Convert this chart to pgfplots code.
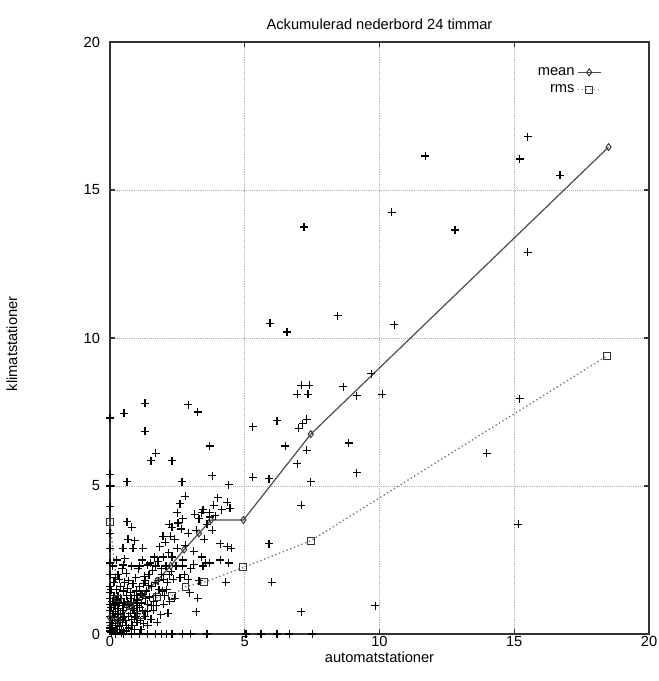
\documentclass[border=0pt]{standalone}
\usepackage{pgfplots}
\pgfplotsset{compat=1.18}
\usepackage{fontspec}
\setmainfont{Liberation Sans}

% station pairs: automatic station (x) vs climate station (y), 24 h accumulated precipitation
\pgfplotstableread{
x y
15.5 16.8
15.2 16.05
11.7 16.15
16.7 15.5
10.45 14.25
12.8 13.65
15.5 12.9
10.55 10.45
7.2 13.75
13.98 6.1
15.2 7.95
15.15 3.7
9.85 0.95
7.1 0.75
8.45 10.75
8.65 8.35
9.15 8.05
10.1 8.1
9.7 8.8
8.85 6.45
9.15 5.45
7.45 5.15
7.1 4.35
7.1 8.4
7.4 8.4
6.95 8.1
7.35 8.1
7.3 7.25
7.15 7.1
7.0 6.95
6.2 7.2
5.3 7.0
6.5 6.35
7.3 6.2
6.95 5.75
5.94 10.5
6.57 10.2
1.3 7.8
0.52 7.45
1.3 6.85
1.7 6.1
1.52 5.85
2.3 5.85
2.9 7.75
3.25 7.5
3.7 6.35
0.63 5.15
2.67 5.15
2.8 4.65
3.8 5.35
4.4 5.05
5.3 5.3
5.9 5.25
5.9 3.05
6.0 1.75
3.2 0.75
4.3 1.75
3.7 2.4
2.6 4.4
2.5 4.1
2.7 3.9
2.3 3.6
2.52 3.75
2.0 3.3
2.4 3.2
4.0 4.6
4.35 4.45
4.45 4.25
4.15 4.2
4.1 3.05
4.35 2.95
4.5 2.9
4.1 2.5
4.4 2.4
3.4 4.1
3.7 3.95
0.63 3.8
0.8 3.6
0.67 3.2
0.92 3.15
0.48 2.9
0.85 2.9
1.22 2.9
1.96 3.3
2.2 3.7
0 7.3
0 5.4
0 5.0
0 4.3
0 3.4
0 2.9
0 2.4
0 2.0
0 1.6
0 1.4
0 1.2
0 1.0
0 0.8
0 0.6
0 0.4
0 0.2
0 0.1
0.2 0
0.5 0
0.8 0
1.1 0
1.4 0
1.7 0
1.9 0
2.1 0
2.3 0
2.7 0
3.0 0
3.6 0
5.05 0
5.6 0
6.2 0
6.65 0
7.5 0
0.05 0.05
0.1 0.2
0.15 0.1
0.2 0.35
0.25 0.15
0.3 0.5
0.1 0.6
0.35 0.25
0.4 0.7
0.05 0.9
0.2 1.0
0.45 0.4
0.5 0.1
0.3 0.85
0.55 0.6
0.15 1.3
0.4 1.2
0.6 0.9
0.25 1.5
0.5 1.45
0.6 0.3
0.1 0.45
0.35 1.05
0.2 0.7
0.45 0.95
0.7 0.2
0.8 0.5
0.9 0.8
0.65 1.1
0.75 1.4
0.85 1.7
1.0 0.4
1.1 0.9
1.2 1.3
0.95 1.9
1.05 2.2
1.3 0.6
1.4 1.0
1.25 1.7
1.45 2.0
0.7 1.8
0.8 2.3
1.0 1.15
1.15 0.15
1.35 1.45
0.6 2.05
1.5 2.4
0.9 1.3
1.2 2.5
1.4 0.3
0.55 1.75
0.75 0.7
1.6 0.8
1.7 1.3
1.8 1.8
1.9 2.2
2.0 1.0
2.1 1.5
2.2 2.0
2.3 2.6
2.4 1.2
1.65 2.6
1.75 0.4
1.85 2.95
2.05 3.1
2.15 0.7
2.35 1.85
2.45 2.3
1.55 1.6
2.25 3.3
1.95 1.45
2.5 2.9
2.6 1.9
2.7 2.5
2.8 3.0
2.9 3.4
3.0 2.2
3.1 2.8
3.2 3.5
3.3 3.9
3.4 2.6
3.5 3.2
3.6 3.7
3.7 4.1
2.65 3.55
2.95 1.4
3.15 4.05
3.45 4.2
3.8 3.5
3.9 4.0
2.75 2.0
3.25 1.2
3.55 2.4
3.85 4.35
0.5 2.33
1.1 2.3
1.4 2.33
1.7 2.3
1.3 1.8
2.0 1.85
2.9 1.85
3.3 1.8
2.7 2.3
3.1 2.35
3.45 2.3
0.05 0.3
0.12 0.75
0.18 0.55
0.22 1.15
0.28 0.3
0.33 0.65
0.38 0.45
0.42 0.15
0.48 0.8
0.52 1.05
0.58 0.45
0.62 1.3
0.68 0.6
0.72 0.95
0.78 1.2
0.82 0.3
0.88 1.05
0.92 0.55
0.98 1.45
1.02 0.7
1.08 1.6
1.12 0.45
1.18 1.05
1.22 0.8
1.28 1.95
1.32 1.2
1.38 0.75
1.42 1.65
1.48 1.25
1.52 0.5
1.58 2.15
1.62 1.1
1.68 1.75
1.72 0.95
1.78 2.45
1.82 1.5
1.88 0.65
1.92 2.0
1.98 2.6
2.02 1.3
2.08 2.3
2.12 1.75
2.18 2.75
2.22 1.1
2.28 2.1
0.15 1.75
0.3 2.0
0.4 1.6
0.25 2.5
0.45 2.2
0.1 2.3
0.35 1.85
0.55 2.55
0.2 1.9
0.65 1.55
0.08 1.1
0.3 1.3
0.5 0.55
0.7 1.0
0.9 0.15
1.0 0.95
0.6 0.1
0.85 0.85
0.15 0.95
0.05 1.5
0.42 0.05
0.95 0.6
1.25 0.35
1.55 0.95
1.15 1.35
}\stations

% mean and rms of the climate-station value per class of the automatic one
\pgfplotstableread{
x y
0 0.55
0.3 0.45
0.75 0.95
1.25 1.35
1.75 1.8
2.25 2.3
2.75 2.85
3.3 3.4
3.75 3.85
4.95 3.85
7.45 6.75
18.5 16.45
}\meanclass

\pgfplotstableread{
x y
0 3.8
0.3 1.2
0.75 0.95
1.1 0.65
1.75 1.25
2.3 1.3
2.8 1.6
3.5 1.75
4.95 2.25
7.45 3.15
18.45 9.4
}\rmsclass

\begin{document}
\begin{tikzpicture}
\begin{axis}[
  at={(0,0)}, anchor=south west,
  width=404.25pt, height=444pt, scale only axis,
  xmin=0, xmax=20, ymin=0, ymax=20,
  xtick={0,5,10,15,20}, ytick={0,5,10,15,20},
  tick align=inside, major tick length=4pt,
  tick style={black!80, line width=0.8pt},
  grid=major, grid style={densely dotted, black!30, line width=0.6pt},
  axis line style={black!80, line width=1pt},
  clip=false,
  font=\fontsize{11}{13}\selectfont,
  /pgf/number format/assume math mode=true,
  ticklabel style={font=\fontsize{11}{13}\selectfont},
  xticklabel style={inner sep=1.5pt},
  yticklabel style={xshift=-4pt},
  title={Ackumulerad nederbord 24 timmar},
  title style={yshift=0pt},
  xlabel={automatstationer},
  ylabel={klimatstationer},
  xlabel style={at={(axis description cs:0.5,-0.04)}, anchor=center},
  ylabel style={at={(axis description cs:-0.182,0.49)}, anchor=center},
  legend style={draw=none, fill=none, inner sep=0pt,
    at={(rel axis cs:0.912,0.962)}, anchor=north east,
    font=\fontsize{11}{12}\selectfont, row sep=1.5pt},
  legend cell align=right,
  legend plot pos=right,
]
\addplot[only marks, mark=+, mark size=3pt, black, line width=0.9pt, forget plot]
  table[x=x, y=y] {\stations};
\addplot[black!70, line width=0.9pt, mark=diamond, mark size=2.6pt,
  mark options={solid, fill=white, black!80, line width=0.7pt}]
  table[x=x, y=y] {\meanclass};
\addlegendentry{mean}
\addplot[black!55, line width=1pt, dotted, mark=square, mark size=2.6pt,
  mark options={solid, fill=white, black!80, line width=0.7pt}]
  table[x=x, y=y] {\rmsclass};
\addlegendentry{rms}
\end{axis}
\pgfresetboundingbox
\path[use as bounding box] (-82.5pt,-35.25pt) rectangle (411.75pt,475.5pt);
\end{tikzpicture}
\end{document}
